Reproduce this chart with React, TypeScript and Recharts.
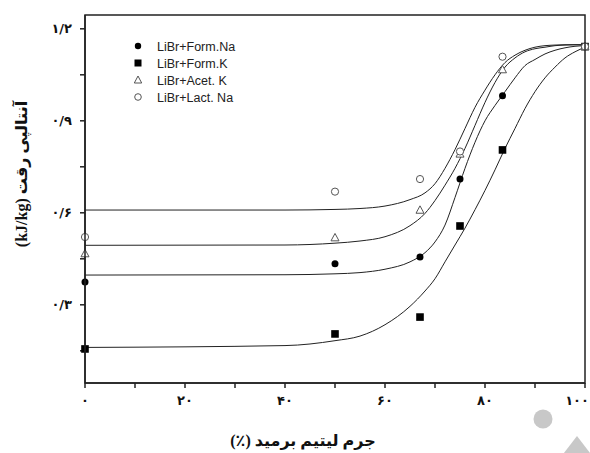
import { ComposedChart, Line, Scatter, XAxis, YAxis } from 'recharts';

// fitted curves
const curveX = [0, 40, 50, 55, 60, 65, 68, 70, 72, 74, 76, 78, 80, 82, 84, 86, 88, 90, 92, 94, 96, 98, 100];
const lactNaCurve = [0.609, 0.609, 0.611, 0.614, 0.622, 0.643, 0.665, 0.695, 0.745, 0.806, 0.875, 0.944, 1.0, 1.05, 1.09, 1.114, 1.13, 1.14, 1.145, 1.147, 1.148, 1.148, 1.148];
const acetKCurve = [0.494, 0.495, 0.501, 0.508, 0.522, 0.558, 0.598, 0.64, 0.69, 0.745, 0.81, 0.885, 0.96, 1.025, 1.075, 1.105, 1.125, 1.135, 1.14, 1.145, 1.147, 1.148, 1.148];
const formNaCurve = [0.397, 0.398, 0.401, 0.405, 0.416, 0.44, 0.47, 0.505, 0.56, 0.65, 0.745, 0.83, 0.9, 0.95, 0.995, 1.04, 1.08, 1.1, 1.118, 1.13, 1.138, 1.143, 1.145];
const formKCurve = [0.161, 0.167, 0.183, 0.198, 0.235, 0.295, 0.345, 0.385, 0.44, 0.495, 0.55, 0.61, 0.673, 0.74, 0.81, 0.875, 0.94, 0.995, 1.04, 1.075, 1.105, 1.125, 1.14];

// measured points
const sampleX = [0, 50, 67, 75, 83.5, 100];
const formNa = [0.374, 0.434, 0.456, 0.71, 0.982, 1.142];
const formK = [0.156, 0.205, 0.26, 0.557, 0.805, 1.142];
const acetK = [0.467, 0.519, 0.609, 0.792, 1.067, 1.142];
const lactNa = [0.521, 0.669, 0.71, 0.8, 1.109, 1.142];

const seriesNames = ['LiBr+Form.Na', 'LiBr+Form.K', 'LiBr+Acet. K', 'LiBr+Lact. Na'];

const xTicks = [0, 10, 20, 30, 40, 50, 60, 70, 80, 90, 100];
const xLabelTicks = [0, 20, 40, 60, 80, 100];
const yTicks = [0.15, 0.3, 0.45, 0.6, 0.75, 0.9, 1.05, 1.2];
const yLabelTicks = [0.3, 0.6, 0.9, 1.2];
const yDomain = [0.045, 1.245];

const xTitle = 'جرم لیتیم برمید (٪)';
const yTitle = 'آنتالپی رقت (kJ/kg)';

const faDigits = '۰۱۲۳۴۵۶۷۸۹';
const toFa = (v: number) => String(v).replace(/\d/g, (d) => faDigits[+d]).replace('.', '/');

const curveData = curveX.map((x, i) => ({
  x,
  lact: lactNaCurve[i],
  acet: acetKCurve[i],
  na: formNaCurve[i],
  k: formKCurve[i],
}));
const pts = (ys: number[]) => sampleX.map((x, i) => ({ x, y: ys[i] }));

const GREY = '#555';
const tickFont = { fontFamily: 'DejaVu Sans', fontSize: 13, fontWeight: 700, fill: '#111' };

const Dot = (p: any) => <circle cx={p.cx} cy={p.cy} r={3.5} fill="#000" />;
const Sq = (p: any) => <rect x={p.cx - 3.8} y={p.cy - 3.8} width={7.6} height={7.6} fill="#000" />;
const Tri = (p: any) => (
  <polygon
    points={`${p.cx},${p.cy - 4.2} ${p.cx - 4},${p.cy + 3.2} ${p.cx + 4},${p.cy + 3.2}`}
    fill="#fff"
    stroke={GREY}
    strokeWidth={1}
  />
);
const Ring = (p: any) => <circle cx={p.cx} cy={p.cy} r={3.6} fill="#fff" stroke={GREY} strokeWidth={1} />;

const XTick = (p: any) => {
  const v = p.payload.value;
  if (!xLabelTicks.includes(v)) return null;
  // the last label sits at the page edge, keep it inside
  const last = v === 100;
  return (
    <text x={last ? 589 : p.x} y={p.y + 15} textAnchor={last ? 'end' : 'middle'} {...tickFont}>
      {toFa(v)}
    </text>
  );
};

const YTick = (p: any) => {
  const v = p.payload.value;
  if (!yLabelTicks.some((t) => Math.abs(t - v) < 1e-6)) return null;
  return (
    <text x={p.x - 6} y={p.y + 4} textAnchor="end" {...tickFont}>
      {toFa(v)}
    </text>
  );
};

const legendMarks = [
  <circle cx={6} cy={6} r={3.2} fill="#000" />,
  <rect x={2.5} y={2.5} width={7} height={7} fill="#000" />,
  <polygon points="6,2 2.3,9 9.7,9" fill="#fff" stroke={GREY} strokeWidth={1} />,
  <circle cx={6} cy={6} r={3.3} fill="#fff" stroke={GREY} strokeWidth={1} />,
];

export default function App() {
  return (
    <div style={{ position: 'absolute', left: 0, top: 0, width: 590, height: 453, overflow: 'hidden', background: '#fff' }}>
      <ComposedChart width={590} height={453} data={curveData} margin={{ top: 15, right: 5, left: 0, bottom: 0 }}>
        <XAxis
          dataKey="x"
          type="number"
          domain={[0, 100]}
          ticks={xTicks}
          tick={<XTick />}
          tickSize={5}
          height={70}
          stroke="#222"
          strokeWidth={1.5}
          interval={0}
        />
        <YAxis
          type="number"
          domain={yDomain}
          ticks={yTicks}
          tick={<YTick />}
          tickSize={5}
          width={85}
          stroke="#222"
          strokeWidth={1.5}
          interval={0}
          allowDataOverflow
        />
        <Line dataKey="lact" type="monotone" stroke="#222" strokeWidth={1} dot={false} isAnimationActive={false} />
        <Line dataKey="acet" type="monotone" stroke="#222" strokeWidth={1} dot={false} isAnimationActive={false} />
        <Line dataKey="na" type="monotone" stroke="#222" strokeWidth={1} dot={false} isAnimationActive={false} />
        <Line dataKey="k" type="monotone" stroke="#222" strokeWidth={1} dot={false} isAnimationActive={false} />
        <Scatter data={pts(formNa)} dataKey="y" shape={Dot} isAnimationActive={false} />
        <Scatter data={pts(formK)} dataKey="y" shape={Sq} isAnimationActive={false} />
        <Scatter data={pts(acetK)} dataKey="y" shape={Tri} isAnimationActive={false} />
        <Scatter data={pts(lactNa)} dataKey="y" shape={Ring} isAnimationActive={false} />
      </ComposedChart>

      <svg width={590} height={453} style={{ position: 'absolute', left: 0, top: 0, pointerEvents: 'none' }}>
        {/* plot frame */}
        <rect x={85} y={15} width={500} height={368} fill="none" stroke="#222" strokeWidth={1.5} />
        <text
          x={303}
          y={446}
          textAnchor="middle"
          direction="rtl"
          style={{ direction: 'rtl', unicodeBidi: 'embed' }}
          fontFamily="'Liberation Serif', 'DejaVu Sans'"
          fontSize={16}
          fontWeight={700}
          fill="#111"
        >
          {xTitle}
        </text>
        <text
          x={0}
          y={0}
          transform="translate(27,174) rotate(-90)"
          textAnchor="middle"
          direction="rtl"
          style={{ direction: 'rtl', unicodeBidi: 'embed' }}
          fontFamily="'Liberation Serif', 'DejaVu Sans'"
          fontSize={16}
          fontWeight={700}
          fill="#111"
        >
          {yTitle}
        </text>
        {/* legend */}
        {seriesNames.map((name, i) => (
          <g key={name} transform={`translate(132,${40 + i * 17})`}>
            {legendMarks[i]}
            <text x={25} y={10.5} fontFamily="'Liberation Sans', Arial" fontSize={12.5} fill="#222">
              {name}
            </text>
          </g>
        ))}
        <circle cx={543} cy={419} r={9.5} fill="#c8c8c8" />
        <polygon points="577,436 597,462 557,462" fill="#c8c8c8" />
      </svg>
    </div>
  );
}
